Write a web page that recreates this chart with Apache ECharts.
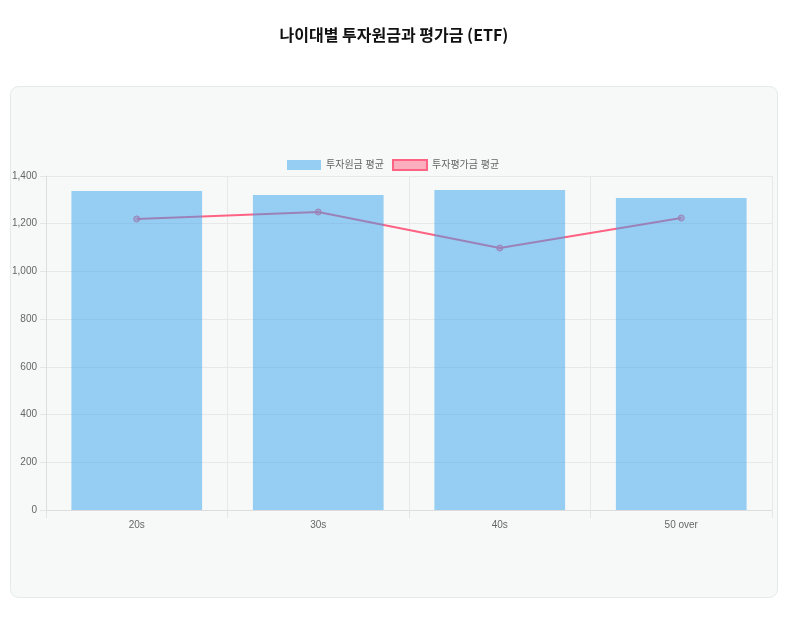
<!DOCTYPE html>
<html><head><meta charset="utf-8">
<script src="https://cdn.jsdelivr.net/npm/echarts@6/dist/echarts.min.js"></script>
<style>html,body{margin:0;padding:0;background:#fff}#c{width:800px;height:619px}</style>
</head><body><div id="c"></div>
<script>
const categories = ['20s', '30s', '40s', '50 over'];
const principalAvg = [1337, 1320, 1341, 1308];
const valuationAvg = [1220, 1249, 1098, 1224];
const yTicks = [0, 200, 400, 600, 800, 1000, 1200, 1400];
const seriesNames = ['투자원금 평균', '투자평가금 평균'];

const chart = echarts.init(document.getElementById('c'));
const font = '"Liberation Sans", Arial, "Noto Sans CJK KR", sans-serif';
chart.setOption({
  animation: false,
  backgroundColor: '#fff',
  graphic: [{
    type: 'rect', z: -10, silent: true,
    shape: {x: 10.5, y: 86.5, width: 767, height: 511, r: 8},
    style: {fill: '#f7f9f8', stroke: '#e2ebe8', lineWidth: 1}
  }],
  title: {
    text: '나이대별 투자원금과 평가금 (ETF)',
    left: 389, top: 22, textAlign: 'center',
    textStyle: {fontFamily: '"Noto Sans CJK KR", sans-serif', fontWeight: 'bold', fontSize: 16, color: '#111'}
  },
  legend: {
    top: 154, left: 282, itemWidth: 34, itemHeight: 10, itemGap: 8,
    textStyle: {fontFamily: font, fontSize: 10, color: '#666'},
    data: [
      {name: seriesNames[0], icon: 'rect', itemStyle: {color: 'rgba(54,162,235,0.5)', borderWidth: 0}},
      {name: seriesNames[1], icon: 'rect', itemStyle: {color: 'rgba(255,99,132,0.5)', borderColor: '#ff6384', borderWidth: 2}}
    ]
  },
  grid: {left: 46, right: 28, top: 176, bottom: 109},
  xAxis: {
    type: 'category', data: categories, boundaryGap: true,
    axisLine: {lineStyle: {color: '#ddd'}},
    axisTick: {show: true, length: 8, lineStyle: {color: '#e5e5e5'}},
    splitLine: {show: true, lineStyle: {color: '#e8e8e8'}},
    axisLabel: {fontFamily: font, fontSize: 10, color: '#666', margin: 10}
  },
  yAxis: {
    type: 'value', min: 0, max: 1400, interval: 200,
    axisLine: {show: true, lineStyle: {color: '#ddd'}},
    axisTick: {show: true, length: 6, lineStyle: {color: '#e5e5e5'}},
    splitLine: {lineStyle: {color: '#e8e8e8'}},
    axisLabel: {fontFamily: font, fontSize: 10, color: '#666', margin: 9,
      formatter: v => yTicks.includes(v) ? v.toLocaleString('en-US') : ''}
  },
  series: [
    {
      name: seriesNames[0], type: 'bar', data: principalAvg, z: 3,
      barCategoryGap: '28%',
      itemStyle: {color: 'rgba(54,162,235,0.5)'}
    },
    {
      name: seriesNames[1], type: 'line', data: valuationAvg, z: 2,
      symbol: 'circle', symbolSize: 6,
      lineStyle: {color: '#ff6384', width: 2},
      itemStyle: {color: 'rgba(255,99,132,0.5)', borderColor: '#ff6384', borderWidth: 1}
    }
  ]
});
</script></body></html>
